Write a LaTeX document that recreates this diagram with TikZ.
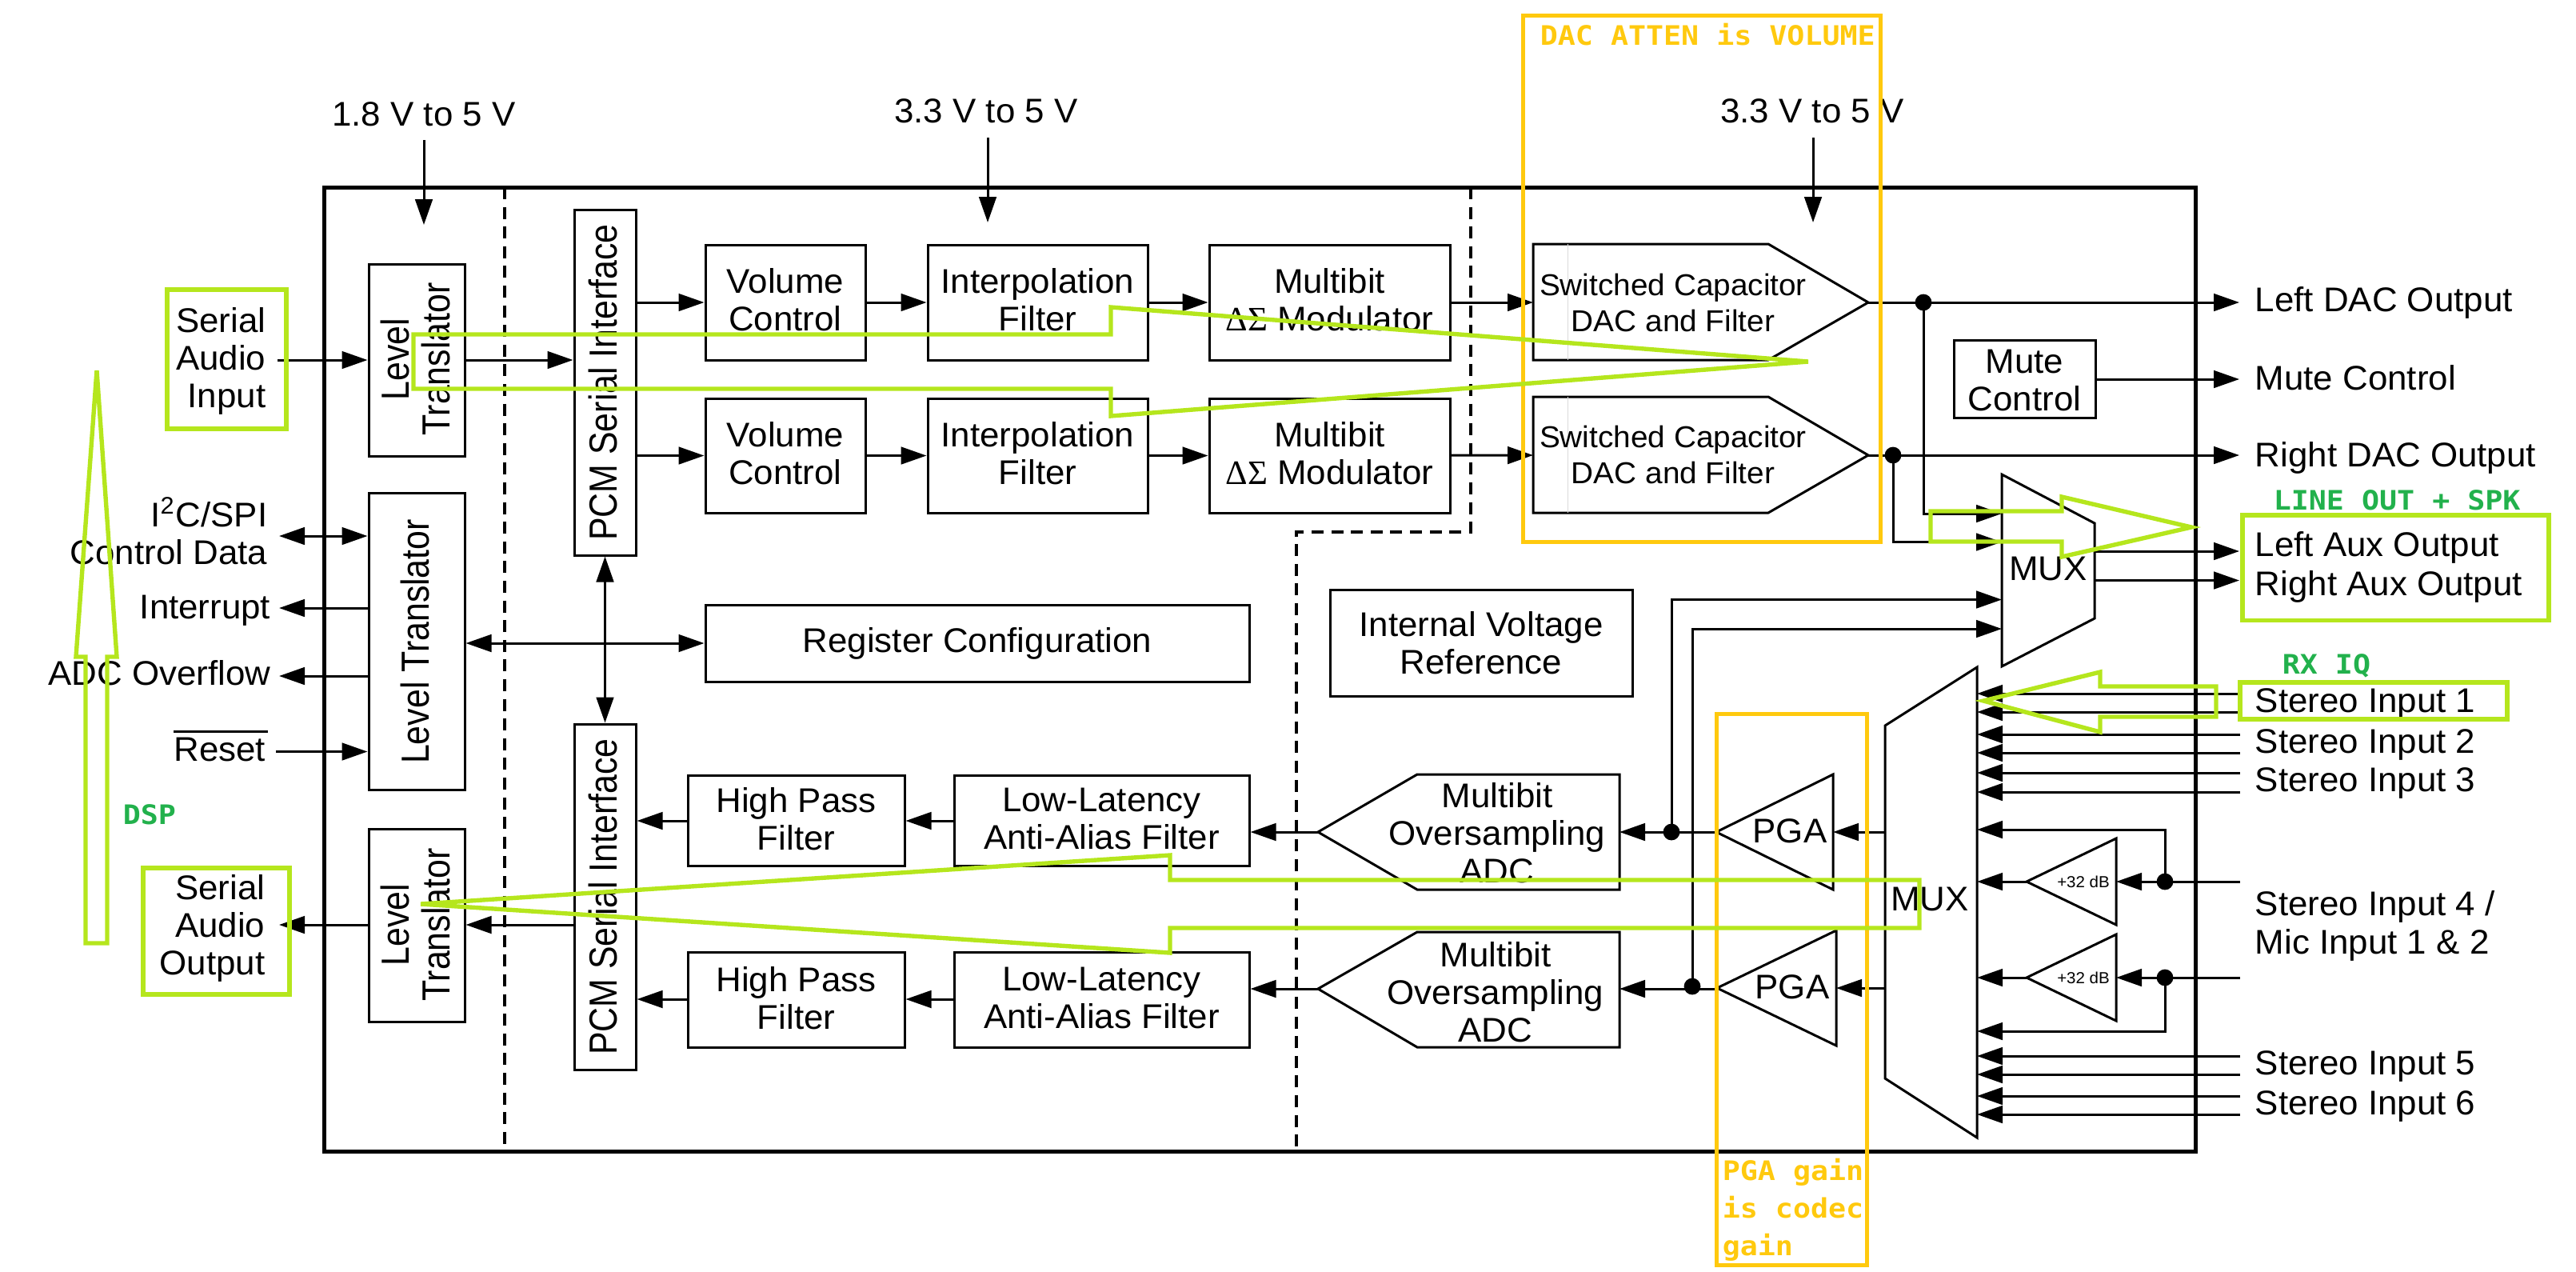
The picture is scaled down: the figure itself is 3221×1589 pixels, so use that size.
\documentclass[tikz,border=0pt]{standalone}
\usepackage{fontspec}
\usetikzlibrary{arrows.meta}
\setmainfont{Liberation Sans}
\newfontfamily\hf[FakeStretch=1.025]{Liberation Sans}
\newfontfamily\rf[FakeStretch=0.875]{Liberation Sans}
\newfontfamily\sy{Liberation Serif}
\newfontfamily\mf[FakeStretch=1.09]{DejaVu Sans Mono}
\definecolor{limec}{HTML}{B5E61D}
\definecolor{goldc}{HTML}{FFC90E}
\definecolor{greenc}{HTML}{22B14C}
\newcommand{\mainfs}{\hf\fontsize{10.7}{11.75}\selectfont}
\newcommand{\smallfs}{\hf\fontsize{9.45}{11.25}\selectfont}
\newcommand{\rotfs}{\rf\fontsize{12.25}{12.75}\selectfont}
\newcommand{\monofs}{\mf\bfseries\fontsize{8.4}{11.75}\selectfont}
\tikzset{
  box/.style={draw,line width=0.75pt,inner sep=0pt},
  txt/.style={inner sep=0pt,align=center,font=\mainfs},
  rtxt/.style={inner sep=0pt,align=center,font=\rotfs,rotate=90},
  llab/.style={inner sep=0pt,anchor=base west,font=\mainfs},
  rlab/.style={inner sep=0pt,anchor=base east,font=\mainfs},
  rblock/.style={inner sep=0pt,anchor=east,align=right,font=\mainfs},
  wire/.style={line width=0.75pt},
  arr/.style={wire,-{Triangle[length=8pt,width=5.4pt]}},
  darr/.style={wire,{Triangle[length=8pt,width=5.4pt]}-{Triangle[length=8pt,width=5.4pt]}},
  dotn/.style={circle,fill=black,inner sep=0pt,minimum size=5.2pt},
  dashln/.style={line width=0.85pt,dash pattern=on 3.75pt off 2.4pt},
  shp/.style={line width=0.75pt,line join=miter},
  limeln/.style={draw=limec,line width=1.35pt,line join=miter},
  goldln/.style={draw=goldc,line width=1.25pt},
  gtxt/.style={inner sep=0pt,anchor=base west,font=\monofs,text=greenc},
  ytxt/.style={inner sep=0pt,anchor=base west,font=\monofs,text=goldc}
}
% optional argument: upward shift of the text, in reference pixels
\newcommand{\bx}[7][0]{\node[box,minimum width={(#5-#3)*0.25pt},minimum height={(#6-#4)*0.25pt}] (#2) at ({(#3+#5)/2},{(#4+#6)/2}) {};
  \node[txt,yshift={(#1)*0.25pt}] (#2t) at (#2.center) {#7};}
\begin{document}
\begin{tikzpicture}[x=0.25pt,y=-0.25pt]
\useasboundingbox (0,0) rectangle (3221,1589);
% main frame
\node[draw,line width=1.25pt,inner sep=0pt,minimum width={(2745-405)*0.25pt},minimum height={(1439.5-234)*0.25pt}] (frame) at ({(405+2745)/2},{(234+1439.5)/2}) {};
% dashed dividers
\coordinate (d1a) at (631,234); \coordinate (d1b) at (631,1439);
\draw[dashln] (d1a) -- (d1b);
\coordinate (d2a) at (1839,234); \coordinate (d2b) at (1839,665); \coordinate (d2c) at (1621,665); \coordinate (d2d) at (1621,1439);
\draw[dashln] (d2a) -- (d2b) -- (d2c) -- (d2d);
% blocks
\bx{lt1}{461}{330}{581}{570}{}
\bx{lt2}{461}{616}{581}{987}{}
\bx{lt3}{461}{1036}{581}{1277}{}
\bx{pcm1}{718}{262}{795}{694}{}
\bx{pcm2}{718}{905}{795}{1337}{}
\node[rtxt] (lt1r) at (519,449) {Level\\Translator};
\node[rtxt] (lt2r) at (519,802) {Level Translator};
\node[rtxt] (lt3r) at (519,1156) {Level\\Translator};
\node[rtxt] (pcm1r) at (754,478) {PCM Serial Interface};
\node[rtxt] (pcm2r) at (754,1121) {PCM Serial Interface};
\bx[3]{vol1}{882}{306}{1082}{450}{Volume\\Control}
\bx[2.5]{vol2}{882}{498}{1082}{641}{Volume\\Control}
\bx[3]{int1}{1160}{306}{1435}{450}{Interpolation\\Filter}
\bx[2.5]{int2}{1160}{498}{1435}{641}{Interpolation\\Filter}
\bx[3]{mod1}{1512}{306}{1813}{450}{Multibit\\{\sy ΔΣ} Modulator}
\bx[2.5]{mod2}{1512}{498}{1813}{641}{Multibit\\{\sy ΔΣ} Modulator}
\bx{reg}{882}{756}{1562}{852}{Register Configuration}
\bx{ivr}{1663}{737}{2041}{870}{Internal Voltage\\Reference}
\bx[-2]{mute}{2443}{425}{2620}{522}{Mute\\Control}
\bx[2]{hp1}{860}{969}{1131}{1082}{High Pass\\Filter}
\bx[2]{hp2}{860}{1190}{1131}{1309}{High Pass\\Filter}
\bx[2]{ll1}{1193}{969}{1562}{1082}{Low-Latency\\Anti-Alias Filter}
\bx[2]{ll2}{1193}{1190}{1562}{1309}{Low-Latency\\Anti-Alias Filter}
% DAC shapes
\draw[shp] (1917,305) -- (2211,305) -- (2336,378) -- (2211,450) -- (1917,450) -- cycle;
\draw[shp] (1917,496) -- (2211,496) -- (2336,569) -- (2211,641) -- (1917,641) -- cycle;
\draw[line width=0.25pt,black!15] (1960,305) -- (1960,450) (1960,496) -- (1960,641);
\node[txt,font=\smallfs] (dac1) at (2092,378) {Switched Capacitor\\DAC and Filter};
\node[txt,font=\smallfs] (dac2) at (2092,568) {Switched Capacitor\\DAC and Filter};
\coordinate (dac1o) at (2336,378); \coordinate (dac2o) at (2336,569);
\coordinate (dac1i) at (1917,378); \coordinate (dac2i) at (1917,569);
% ADC shapes
\draw[shp] (1648,1040) -- (1772,968) -- (2025,968) -- (2025,1112) -- (1772,1112) -- cycle;
\draw[shp] (1648,1236) -- (1772,1165) -- (2025,1165) -- (2025,1309) -- (1772,1309) -- cycle;
\node[txt] (adc1) at (1872,1041) {Multibit\\Oversampling\\ADC};
\node[txt] (adc2) at (1870,1240) {Multibit\\Oversampling\\ADC};
\coordinate (adc1o) at (1648,1040); \coordinate (adc2o) at (1648,1236);
\coordinate (adc1i) at (2025,1040); \coordinate (adc2i) at (2025,1236);
% PGA
\draw[shp] (2146,1040) -- (2292,968) -- (2292,1112) -- cycle;
\draw[shp] (2147,1235) -- (2296,1163) -- (2296,1307) -- cycle;
\node[txt] (pga1) at (2238,1039) {PGA};
\node[txt] (pga2) at (2241,1234) {PGA};
\coordinate (pga1i) at (2292,1040); \coordinate (pga1o) at (2146,1040);
\coordinate (pga2i) at (2296,1235); \coordinate (pga2o) at (2147,1236);
% +32 dB amps
\draw[shp] (2534,1102) -- (2646,1048) -- (2646,1156) -- cycle;
\draw[shp] (2534,1222) -- (2646,1168) -- (2646,1276) -- cycle;
\node[txt,font=\hf\fontsize{5}{6}\selectfont] (amp1) at (2605,1102) {+32 dB};
\node[txt,font=\hf\fontsize{5}{6}\selectfont] (amp2) at (2605,1222) {+32 dB};
\coordinate (amp1o) at (2534,1102); \coordinate (amp1i) at (2646,1102);
\coordinate (amp2o) at (2534,1222); \coordinate (amp2i) at (2646,1222);
% MUXes
\draw[shp] (2503,593) -- (2619,654) -- (2619,773) -- (2503,833) -- cycle;
\node[txt] (mux1) at (2561,711) {MUX};
\draw[shp] (2357,907) -- (2472,834) -- (2472,1422) -- (2357,1348) -- cycle;
\node[txt] (mux2) at (2413,1124) {MUX};
\coordinate (m1w) at (2503,700); \coordinate (m1e) at (2619,700);
\coordinate (m2w) at (2472,1100); \coordinate (m2e) at (2357,1100);
% supply labels and arrows
\node[txt] (v1) at (530,143) {1.8 V to 5 V};
\node[txt] (v2) at (1233,139) {3.3 V to 5 V};
\node[txt] (v3) at (2266,139) {3.3 V to 5 V};
\coordinate (v1a) at (530,175); \coordinate (v1b) at (530,281);
\coordinate (v2a) at (1235,172); \coordinate (v2b) at (1235,278);
\coordinate (v3a) at (2267,172); \coordinate (v3b) at (2267,278);
\draw[arr] (v1a) -- (v1b);
\draw[arr] (v2a) -- (v2b);
\draw[arr] (v3a) -- (v3b);
% left labels
\node[rblock] (sai) at (333,451) {Serial\\Audio\\Input};
\node[rblock] (sao) at (332,1160) {Serial\\Audio\\Output};
\node[rblock] (i2c) at (335,664) {I\textsuperscript{2}C/SPI\\Control Data};
\node[rlab] (intr) at (339,773) {Interrupt};
\node[rlab] (adco) at (339,856) {ADC Overflow};
\node[rlab] (rst) at (333,951) {Reset};
\coordinate (rsta1) at (217,914); \coordinate (rsta2) at (335,914);
\draw[wire] (rsta1) -- (rsta2);
% left connectors
\coordinate (saia) at (347,450); \coordinate (i2ca) at (349,670); \coordinate (inta) at (349,760);
\coordinate (adca) at (349,845); \coordinate (rsta) at (345,939.5); \coordinate (saoa) at (349,1156);
\draw[arr] (saia) -- (lt1.west |- saia);
\draw[arr] (lt1.east |- saia) -- (pcm1.west |- saia);
\draw[darr] (i2ca) -- (lt2.west |- i2ca);
\draw[arr] (lt2.west |- inta) -- (inta);
\draw[arr] (lt2.west |- adca) -- (adca);
\draw[arr] (rsta) -- (lt2.west |- rsta);
\draw[arr] (lt3.west |- saoa) -- (saoa);
\draw[arr] (pcm2.west |- saoa) -- (lt3.east |- saoa);
\draw[darr] (lt2.east |- reg.west) -- (reg.west);
\draw[darr] (pcm1.south) -- (pcm2.north);
% DAC path
\draw[arr] (pcm1.east |- vol1.west) -- (vol1.west);
\draw[arr] (pcm1.east |- vol2.west) -- (vol2.west);
\draw[arr] (vol1) -- (int1);
\draw[arr] (vol2) -- (int2);
\draw[arr] (int1) -- (mod1);
\draw[arr] (int2) -- (mod2);
\draw[arr] (mod1) -- (dac1i);
\draw[arr] (mod2) -- (dac2i);
% ADC path
\coordinate (hp1w) at (860,1026); \coordinate (hp2w) at (860,1249);
\draw[arr] (hp1w) -- (pcm2.east |- hp1w);
\draw[arr] (hp2w) -- (pcm2.east |- hp2w);
\draw[arr] (ll1.west |- hp1w) -- (hp1.east |- hp1w);
\draw[arr] (ll2.west |- hp2w) -- (hp2.east |- hp2w);
\draw[arr] (adc1o) -- (ll1.east |- adc1o);
\draw[arr] (adc2o) -- (ll2.east |- adc2o);
\draw[arr] (pga1o) -- (adc1i);
\draw[arr] (pga2o) -- (adc2i);
\node[dotn] (j1) at (2090,1040) {};
\node[dotn] (j2) at (2116,1233) {};
\coordinate (mi3) at (2503,749.5); \coordinate (mi4) at (2503,786);
\draw[arr] (j1.center) -- (j1.center |- mi3) -- (mi3);
\draw[arr] (j2.center) -- (j2.center |- mi4) -- (mi4);
% DAC outputs
\coordinate (ldo) at (2800,378); \coordinate (rdo) at (2800,569); \coordinate (mco) at (2800,474);
\draw[arr] (dac1o) -- (ldo);
\draw[arr] (dac2o) -- (rdo);
\draw[arr] (mute.east |- mco) -- (mco);
\node[dotn] (j3) at (2405,378) {};
\node[dotn] (j4) at (2367,569) {};
\coordinate (mi1) at (2503,642); \coordinate (mi2) at (2503,677.5);
\draw[arr] (j3.center) -- (j3.center |- mi1) -- (mi1);
\draw[arr] (j4.center) -- (j4.center |- mi2) -- (mi2);
\coordinate (lao) at (2800,689); \coordinate (rao) at (2800,725.5);
\draw[arr] (m1e |- lao) -- (lao);
\draw[arr] (m1e |- rao) -- (rao);
% MUX outputs
\draw[arr] (m2e |- pga1i) -- (pga1i);
\draw[arr] (m2e |- pga2i) -- (pga2i);
% stereo inputs
\foreach \yy in {867,890,918,941,966,990,1320,1343,1370,1393}{
  \coordinate (si\yy) at (2801,\yy);
  \draw[arr] (si\yy) -- (m2w |- si\yy);
}
% mic inputs
\coordinate (mic1) at (2801,1102); \coordinate (mic2) at (2801,1222);
\draw[arr] (mic1) -- (amp1i);
\draw[arr] (mic2) -- (amp2i);
\draw[arr] (amp1o) -- (m2w |- amp1o);
\draw[arr] (amp2o) -- (m2w |- amp2o);
\node[dotn] (j5) at (2707,1102) {};
\node[dotn] (j6) at (2707,1222) {};
\coordinate (mb1) at (2472,1037); \coordinate (mb2) at (2472,1289);
\draw[arr] (j5.center) -- (j5.center |- mb1) -- (mb1);
\draw[arr] (j6.center) -- (j6.center |- mb2) -- (mb2);
% right labels
\node[llab] (t1) at (2819,389) {Left DAC Output};
\node[llab] (t2) at (2819,487) {Mute Control};
\node[llab] (t3) at (2819,583) {Right DAC Output};
\node[llab] (t4) at (2819,695) {Left Aux Output};
\node[llab] (t5) at (2819,744) {Right Aux Output};
\node[llab] (t6) at (2819,890) {Stereo Input 1};
\node[llab] (t7) at (2819,941) {Stereo Input 2};
\node[llab] (t8) at (2819,989) {Stereo Input 3};
\node[llab] (t9) at (2819,1144) {Stereo Input 4 /};
\node[llab] (t10) at (2819,1192) {Mic Input 1 \& 2};
\node[llab] (t11) at (2819,1343) {Stereo Input 5};
\node[llab] (t12) at (2819,1393) {Stereo Input 6};
% gold annotations
\draw[goldln] (1904,19) rectangle (2351,677);
\draw[goldln] (2146,892.5) rectangle (2334,1581);
\node[ytxt] (y1) at (1925,56) {DAC ATTEN is VOLUME};
\node[ytxt] (y2) at (2153,1475) {PGA gain};
\node[ytxt] (y3) at (2153,1522) {is codec};
\node[ytxt] (y4) at (2153,1569) {gain};
% lime annotations
\draw[limeln] (209,362) rectangle (358,536);
\draw[limeln] (179,1085) rectangle (362,1243);
\draw[limeln] (2804,644) rectangle (3187,775.5);
\draw[limeln] (2801,853) rectangle (3135,899);
\draw[limeln] (121,463) -- (146,821) -- (134,821) -- (134,1179) -- (107,1179) -- (107,821) -- (95,821) -- cycle;
\draw[limeln] (517,418) -- (1389,418) -- (1389,384) -- (2261,452) -- (1389,520) -- (1389,486) -- (517,486) -- cycle;
\draw[limeln] (526,1130) -- (1463,1069) -- (1463,1100) -- (2400,1100) -- (2400,1160) -- (1463,1160) -- (1463,1191) -- cycle;
\draw[limeln] (2414,639) -- (2578,639) -- (2578,621) -- (2740,659) -- (2578,696) -- (2578,677) -- (2414,677) -- cycle;
\draw[limeln] (2480,876) -- (2626,840) -- (2626,858) -- (2771,858) -- (2771,896) -- (2626,896) -- (2626,915) -- cycle;
\node[gtxt] (g1) at (153,1030) {DSP};
\node[gtxt] (g2) at (2842,637) {LINE OUT + SPK};
\node[gtxt] (g3) at (2853,842) {RX IQ};
\end{tikzpicture}
\end{document}
